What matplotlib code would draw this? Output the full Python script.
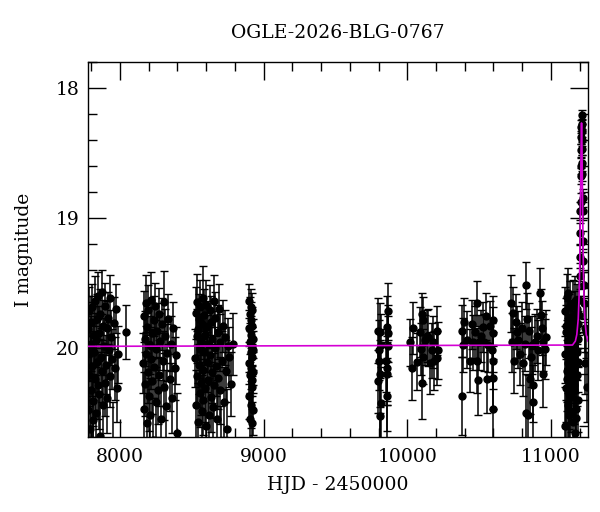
"""
OGLE-2026-BLG-0767 light curve: I-band photometry with microlensing model
"""
import numpy as np
import matplotlib.pyplot as plt

plt.rcParams["font.family"] = ["DejaVu Serif"]

# --- photometry, one block per observing season (HJD - 2450000, I mag, error) ---
s1_hjd = [7778, 7781, 7784, 7787, 7790, 7793, 7796, 7799, 7802, 7805, 7808, 7811, 7814,
          7817, 7820, 7824, 7827, 7830, 7834, 7837, 7841, 7844, 7848, 7852, 7856, 7860,
          7864, 7868, 7872, 7876, 7880, 7885, 7889, 7894, 7898, 7903, 7908, 7913, 7918,
          7923, 7929, 7934, 7940, 7946, 7952, 7958, 7965, 7972, 7980, 7988, 8042]
s1_mag = [20.48, 19.86, 20.21, 19.72, 20.63, 20.04, 19.80, 20.33, 19.97, 20.14, 19.69,
          20.41, 20.56, 19.90, 20.03, 19.64, 20.24, 19.94, 20.50, 19.78, 20.11, 19.60,
          20.29, 19.89, 20.36, 20.68, 19.74, 20.07, 19.57, 20.18, 19.83, 20.44, 19.99,
          20.27, 19.68, 20.13, 19.85, 20.39, 19.77, 20.02, 19.62, 20.22, 19.92, 20.09,
          20.75, 19.81, 20.16, 19.70, 20.31, 20.05, 19.88]
s1_err = [0.26, 0.21, 0.24, 0.19, 0.30, 0.22, 0.20, 0.27, 0.21, 0.23, 0.18, 0.28, 0.31,
          0.22, 0.22, 0.19, 0.25, 0.21, 0.29, 0.19, 0.23, 0.18, 0.26, 0.21, 0.27, 0.32,
          0.19, 0.22, 0.17, 0.24, 0.20, 0.28, 0.22, 0.26, 0.18, 0.23, 0.21, 0.27, 0.20,
          0.22, 0.18, 0.24, 0.21, 0.23, 0.33, 0.20, 0.24, 0.19, 0.26, 0.22, 0.21]

s2_hjd = [8162, 8166, 8170, 8173, 8177, 8180, 8184, 8187, 8191, 8195, 8198, 8202, 8206,
          8210, 8214, 8218, 8222, 8226, 8231, 8235, 8240, 8244, 8249, 8254, 8259, 8264,
          8269, 8275, 8280, 8286, 8292, 8298, 8304, 8310, 8317, 8324, 8331, 8338, 8346,
          8354, 8362, 8371, 8380, 8389, 8398]
s2_mag = [20.12, 19.76, 20.47, 19.93, 20.28, 19.66, 20.05, 20.58, 19.84, 20.19, 19.71,
          20.37, 19.98, 20.52, 19.63, 20.09, 19.89, 20.26, 20.71, 19.79, 20.15, 19.68,
          20.42, 20.01, 19.87, 20.33, 19.74, 20.21, 19.95, 20.55, 19.82, 20.10, 19.65,
          20.30, 19.91, 20.45, 20.04, 19.78, 20.24, 19.97, 20.39, 19.85, 20.16, 20.06,
          20.66]
s2_err = [0.23, 0.20, 0.28, 0.21, 0.25, 0.22, 0.22, 0.30, 0.20, 0.24, 0.19, 0.27, 0.22,
          0.29, 0.21, 0.23, 0.20, 0.25, 0.32, 0.19, 0.24, 0.18, 0.27, 0.22, 0.21, 0.26,
          0.20, 0.24, 0.22, 0.30, 0.20, 0.23, 0.24, 0.26, 0.21, 0.28, 0.22, 0.19, 0.25,
          0.21, 0.27, 0.20, 0.24, 0.22, 0.31]

s3_hjd = [8524, 8527, 8530, 8533, 8536, 8539, 8542, 8545, 8548, 8551, 8554, 8557, 8560,
          8563, 8566, 8569, 8572, 8575, 8578, 8581, 8584, 8588, 8591, 8594, 8598, 8601,
          8605, 8608, 8612, 8616, 8620, 8624, 8628, 8632, 8636, 8640, 8644, 8648, 8652,
          8656, 8661, 8665, 8670, 8675, 8680, 8685, 8690, 8695, 8700, 8706, 8712, 8718,
          8724, 8731, 8738, 8745, 8753, 8762, 8772, 8787]
s3_mag = [20.08, 19.73, 20.44, 19.91, 20.22, 19.65, 20.57, 19.86, 20.13, 19.78, 20.35,
          20.01, 19.69, 20.27, 19.95, 20.49, 19.82, 20.17, 19.62, 20.40, 20.03, 19.75,
          20.31, 19.90, 20.60, 19.67, 20.11, 19.84, 20.25, 19.97, 20.52, 19.71, 20.06,
          20.38, 19.80, 20.19, 19.93, 20.46, 19.64, 20.29, 20.00, 19.77, 20.14, 20.55,
          19.88, 20.23, 19.70, 20.33, 19.96, 20.78, 20.10, 19.83, 20.42, 19.92, 20.18,
          20.63, 19.99, 20.07, 20.28, 19.97]
s3_err = [0.22, 0.20, 0.27, 0.21, 0.24, 0.22, 0.30, 0.20, 0.23, 0.19, 0.26, 0.22, 0.21,
          0.25, 0.21, 0.28, 0.20, 0.24, 0.25, 0.27, 0.22, 0.20, 0.26, 0.21, 0.31, 0.19,
          0.23, 0.20, 0.25, 0.22, 0.29, 0.19, 0.22, 0.27, 0.20, 0.24, 0.21, 0.28, 0.20,
          0.25, 0.22, 0.20, 0.23, 0.30, 0.21, 0.24, 0.19, 0.26, 0.22, 0.33, 0.23, 0.20,
          0.27, 0.21, 0.24, 0.31, 0.22, 0.23, 0.25, 0.24]

s4_hjd = [8896, 8898, 8900, 8901, 8903, 8904, 8906, 8907, 8909, 8910, 8911, 8912, 8914,
          8915, 8916, 8917, 8918, 8919, 8920, 8921, 8922, 8923, 8924, 8925, 8927]
s4_mag = [19.64, 20.12, 19.85, 20.37, 19.96, 20.55, 19.74, 20.21, 20.03, 19.69, 20.44,
          19.90, 20.16, 19.79, 20.30, 20.58, 19.99, 19.83, 20.25, 20.07, 19.71, 20.48,
          19.93, 20.19, 20.02]
s4_err = [0.13, 0.16, 0.14, 0.18, 0.15, 0.20, 0.13, 0.16, 0.15, 0.14, 0.18, 0.14, 0.16,
          0.14, 0.17, 0.21, 0.15, 0.14, 0.17, 0.15, 0.13, 0.19, 0.15, 0.16, 0.15]

s5_hjd = [9799, 9811, 9815, 9804, 9811, 9799, 9815, 9811, 9862, 9869, 9857, 9862, 9857,
          9869, 9852, 9858, 9812, 9806, 9865]
s5_mag = [19.87, 19.88, 19.98, 20.10, 20.20, 20.26, 20.43, 20.53, 19.84, 19.99, 20.16,
          20.20, 20.37, 19.89, 20.10, 20.75, 20.80, 20.02, 19.72]
s5_err = [0.25, 0.22, 0.24, 0.23, 0.26, 0.24, 0.28, 0.30, 0.24, 0.23, 0.25, 0.24, 0.27,
          0.22, 0.24, 0.31, 0.30, 0.23, 0.22]

s6_hjd = [10019, 10031, 10038, 10070, 10089, 10101, 10101, 10112, 10124, 10136, 10147,
          10159, 10170, 10177, 10187, 10205, 10217, 10210, 10108, 10096]
s6_mag = [19.96, 20.16, 19.85, 20.11, 19.88, 19.74, 20.27, 20.07, 19.94, 19.91, 19.92,
          20.12, 20.02, 19.96, 20.10, 19.87, 20.02, 20.08, 19.79, 20.01]
s6_err = [0.18, 0.24, 0.20, 0.22, 0.19, 0.16, 0.28, 0.21, 0.19, 0.20, 0.22, 0.24, 0.21,
          0.20, 0.23, 0.19, 0.22, 0.21, 0.18, 0.20]

s7_hjd = [10379, 10379, 10391, 10395, 10419, 10437, 10449, 10460, 10472, 10484, 10488,
          10495, 10502, 10512, 10530, 10535, 10549, 10553, 10565, 10576, 10595, 10600,
          10600, 10600, 10600, 10588]
s7_mag = [19.87, 20.37, 19.98, 19.80, 19.94, 20.10, 19.82, 19.96, 19.88, 19.66, 20.10,
          20.25, 19.96, 19.91, 19.84, 19.96, 19.76, 20.24, 19.98, 19.83, 19.79, 19.89,
          20.10, 20.23, 20.47, 20.02]
s7_err = [0.20, 0.30, 0.21, 0.18, 0.22, 0.24, 0.19, 0.21, 0.20, 0.17, 0.25, 0.27, 0.21,
          0.20, 0.19, 0.22, 0.18, 0.26, 0.21, 0.19, 0.19, 0.20, 0.22, 0.24, 0.28, 0.21]

s8_hjd = [10720, 10734, 10727, 10744, 10758, 10762, 10774, 10785, 10797, 10809, 10820,
          10827, 10827, 10832, 10843, 10850, 10855, 10860, 10867, 10874, 10878, 10890,
          10902, 10913, 10925, 10929, 10936, 10943, 10948, 10960, 10966]
s8_mag = [19.66, 19.73, 19.96, 20.10, 19.80, 19.88, 19.94, 20.05, 19.85, 20.12, 19.97,
          19.52, 20.50, 19.78, 20.52, 19.87, 20.24, 20.07, 19.98, 20.29, 20.42, 19.96,
          19.91, 20.02, 19.58, 19.75, 19.85, 19.96, 20.20, 20.01, 19.92]
s8_err = [0.22, 0.20, 0.23, 0.25, 0.21, 0.20, 0.22, 0.24, 0.20, 0.25, 0.21, 0.18, 0.30,
          0.20, 0.31, 0.21, 0.27, 0.23, 0.22, 0.28, 0.29, 0.22, 0.21, 0.23, 0.19, 0.20,
          0.21, 0.22, 0.26, 0.23, 0.21]

s9_hjd = [11098, 11101, 11104, 11107, 11110, 11113, 11116, 11119, 11122, 11125, 11128,
          11131, 11134, 11137, 11140, 11143, 11146, 11149, 11152, 11155, 11158, 11161,
          11164, 11167, 11170, 11173, 11176, 11179, 11182, 11185, 11188, 11191, 11194,
          11197,
          11100, 11106, 11112, 11118, 11124, 11130, 11136, 11142, 11148, 11154, 11160,
          11166, 11172, 11178, 11184, 11190, 11103, 11121, 11145, 11169,
          11232, 11236, 11240, 11245, 11250]
s9_mag = [20.05, 19.72, 20.31, 19.88, 20.18, 19.61, 20.44, 19.95, 20.12, 19.79, 20.52,
          20.02, 19.68, 20.26, 19.91, 20.38, 19.84, 20.08, 19.66, 20.57, 20.15, 19.93,
          20.33, 19.75, 20.01, 20.47, 19.86, 20.21, 19.70, 20.11, 19.82, 20.40, 19.75,
          19.63,
          20.60, 19.83, 20.24, 19.58, 20.36, 19.97, 20.49, 19.77, 20.09, 19.89, 20.29,
          19.64, 20.54, 20.03, 19.81, 19.93, 20.72, 19.85, 20.19, 20.66,
          19.66, 19.85, 20.12, 19.88, 20.30]
s9_err = [0.22, 0.19, 0.26, 0.21, 0.24, 0.18, 0.28, 0.21, 0.23, 0.20, 0.30, 0.22, 0.19,
          0.25, 0.21, 0.27, 0.20, 0.23, 0.18, 0.31, 0.23, 0.21, 0.26, 0.19, 0.22, 0.28,
          0.20, 0.24, 0.19, 0.23, 0.18, 0.25, 0.15, 0.14,
          0.30, 0.21, 0.25, 0.19, 0.27, 0.22, 0.29, 0.20, 0.23, 0.21, 0.26, 0.19, 0.30,
          0.22, 0.20, 0.21, 0.32, 0.21, 0.24, 0.31,
          0.12, 0.18, 0.24, 0.20, 0.27]

# points on the magnified peak
peak_hjd = [11199, 11201, 11203, 11205, 11206, 11208, 11209, 11210, 11211, 11212, 11213,
            11213, 11214, 11215, 11216, 11217, 11218, 11220, 11221, 11223, 11225, 11228]
peak_mag = [19.45, 19.30, 19.12, 18.95, 18.88, 18.68, 18.60, 18.48, 18.38, 18.30, 18.21,
            18.28, 18.33, 18.40, 18.47, 18.58, 18.66, 18.85, 18.95, 19.18, 19.33, 19.52]
peak_err = [0.10, 0.09, 0.08, 0.07, 0.07, 0.06, 0.06, 0.05, 0.05, 0.05, 0.04,
            0.04, 0.05, 0.05, 0.05, 0.06, 0.06, 0.07, 0.07, 0.08, 0.09, 0.10]

# model curve
model_hjd = [7775, 11150, 11170, 11180, 11190, 11196, 11200, 11204, 11207, 11210, 11213,
             11216, 11219, 11222, 11226, 11230, 11236, 11246, 11258]
model_mag = [19.99, 19.98, 19.95, 19.90, 19.78, 19.60, 19.40, 19.05, 18.75, 18.45, 18.27,
             18.45, 18.75, 19.05, 19.40, 19.60, 19.78, 19.90, 19.95]

hjd = np.concatenate([s1_hjd, s2_hjd, s3_hjd, s4_hjd, s5_hjd, s6_hjd, s7_hjd, s8_hjd,
                      s9_hjd, peak_hjd])
mag = np.concatenate([s1_mag, s2_mag, s3_mag, s4_mag, s5_mag, s6_mag, s7_mag, s8_mag,
                      s9_mag, peak_mag])
err = np.concatenate([s1_err, s2_err, s3_err, s4_err, s5_err, s6_err, s7_err, s8_err,
                      s9_err, peak_err])

fig = plt.figure(figsize=(6.0, 5.12), dpi=100)
ax = fig.add_axes([0.146, 0.146, 0.834, 0.733])

ax.errorbar(hjd, mag, yerr=err, fmt="o", color="black", ms=5.0, ecolor="black",
            elinewidth=1.1, capsize=3, capthick=1.0, zorder=2)
ax.plot(model_hjd, model_mag, color="#d400d4", lw=1.2, zorder=3)

ax.set_xlim(7775, 11258)
ax.set_ylim(20.69, 17.80)
ax.set_xticks([8000, 9000, 10000, 11000])
ax.set_xticks(np.arange(7800, 11300, 200), minor=True)
ax.set_yticks([18, 19, 20])
ax.set_yticks(np.arange(17.8, 20.7, 0.2), minor=True)

ax.tick_params(which="both", direction="in", top=True, right=True, width=1.0)
ax.tick_params(which="major", length=13, labelsize=13.5)
ax.tick_params(axis="x", which="major", pad=8)
ax.tick_params(axis="y", which="major", pad=6)
ax.tick_params(which="minor", length=6.5)
for sp in ax.spines.values():
    sp.set_linewidth(1.0)

ax.set_title("OGLE-2026-BLG-0767", fontsize=13.5, pad=17)
ax.set_xlabel("HJD - 2450000", fontsize=13.5, labelpad=7)
ax.set_ylabel("I magnitude", fontsize=13.5, labelpad=16)

plt.savefig("out.png", dpi=100)
